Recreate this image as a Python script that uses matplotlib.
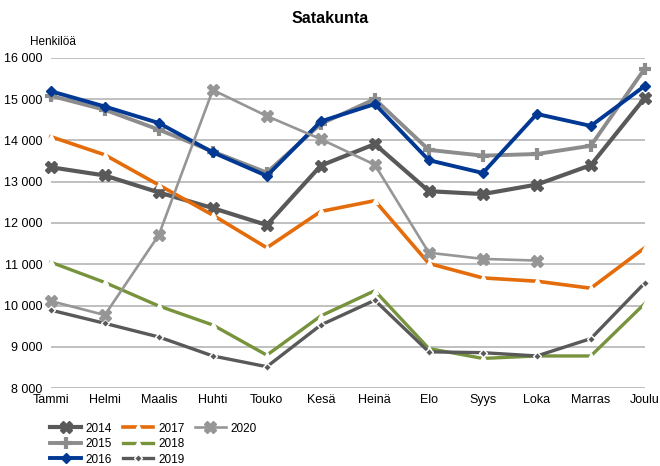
import matplotlib.pyplot as plt
from matplotlib.lines import Line2D
from matplotlib.ticker import FuncFormatter

plt.rcParams["font.family"] = ["Liberation Sans", "DejaVu Sans"]

months = ["Tammi", "Helmi", "Maalis", "Huhti", "Touko", "Kesä",
          "Heinä", "Elo", "Syys", "Loka", "Marras", "Joulu"]

y2014 = [13350, 13150, 12740, 12360, 11950, 13390, 13910, 12770, 12700, 12930, 13400, 15030]
y2015 = [15080, 14740, 14260, 13730, 13220, 14400, 15000, 13770, 13630, 13670, 13870, 15740]
y2016 = [15190, 14820, 14420, 13710, 13140, 14460, 14880, 13520, 13210, 14640, 14350, 15320]
y2017 = [14090, 13650, 12920, 12190, 11400, 12280, 12540, 11020, 10670, 10590, 10420, 11400]
y2018 = [11050, 10560, 9990, 9530, 8800, 9750, 10360, 8960, 8720, 8780, 8780, 10050]
y2019 = [9890, 9570, 9240, 8780, 8520, 9530, 10130, 8880, 8860, 8780, 9200, 10550]
y2020 = [10110, 9770, 11710, 15220, 14590, 14030, 13410, 11280, 11130, 11090]

series = [
    ("2014", y2014, dict(color="#595959", lw=3.0, marker="X", ms=8, mfc="#595959", mec="#595959")),
    ("2015", y2015, dict(color="#8C8C8C", lw=2.8, marker="+", ms=8, mew=3)),
    ("2016", y2016, dict(color="#003893", lw=2.8, marker="D", ms=5, mfc="#003893", mec="#003893")),
    ("2017", y2017, dict(color="#E46C0A", lw=2.6, marker="^", ms=4, mfc="white", mec="white")),
    ("2018", y2018, dict(color="#77933C", lw=2.4, marker="^", ms=4, mfc="white", mec="white")),
    ("2019", y2019, dict(color="#595959", lw=2.4, marker="D", ms=4, mfc="#595959", mec="white")),
    ("2020", y2020, dict(color="#969696", lw=1.9, marker="X", ms=8, mfc="#969696", mec="#969696")),
]

fig = plt.figure(figsize=(6.6, 4.66), dpi=100)
ax = fig.add_axes([0.077, 0.167, 0.900, 0.709])

handles = []
for name, vals, style in series:
    h, = ax.plot(range(len(vals)), vals, label=name, clip_on=False, **style)
    handles.append(h)

ax.set_xlim(0, len(months) - 1)
ax.set_ylim(8000, 16000)
ax.set_yticks(range(8000, 16001, 1000))
ax.yaxis.set_major_formatter(FuncFormatter(lambda v, p: f"{int(v):,}".replace(",", " ")))
ax.set_xticks(range(len(months)))
ax.set_xticklabels(months)
ax.tick_params(length=0, labelsize=9, pad=4)
ax.tick_params(axis="y", pad=6)
ax.grid(axis="y", color="#C0C0C0", lw=1.4)
ax.set_axisbelow(True)
for s in ax.spines.values():
    s.set_visible(False)

fig.text(0.5, 0.96, "Satakunta", ha="center", va="center", fontsize=11.5, fontweight="bold")
fig.text(0.045, 0.91, "Henkilöä", ha="left", va="center", fontsize=8.5)

# blank entries so the legend fills 3 + 3 + 1 like the original
blank = Line2D([], [], linestyle="none")
leg_handles = handles + [blank, blank]
leg_labels = [h.get_label() for h in handles] + ["", ""]
fig.legend(leg_handles, leg_labels, loc="lower left", bbox_to_anchor=(0.06, -0.022), ncol=3,
           frameon=False, fontsize=8.5, handlelength=2.6, labelspacing=0.3,
           columnspacing=0.9, handletextpad=0.4)

fig.savefig("out.png", dpi=100)
